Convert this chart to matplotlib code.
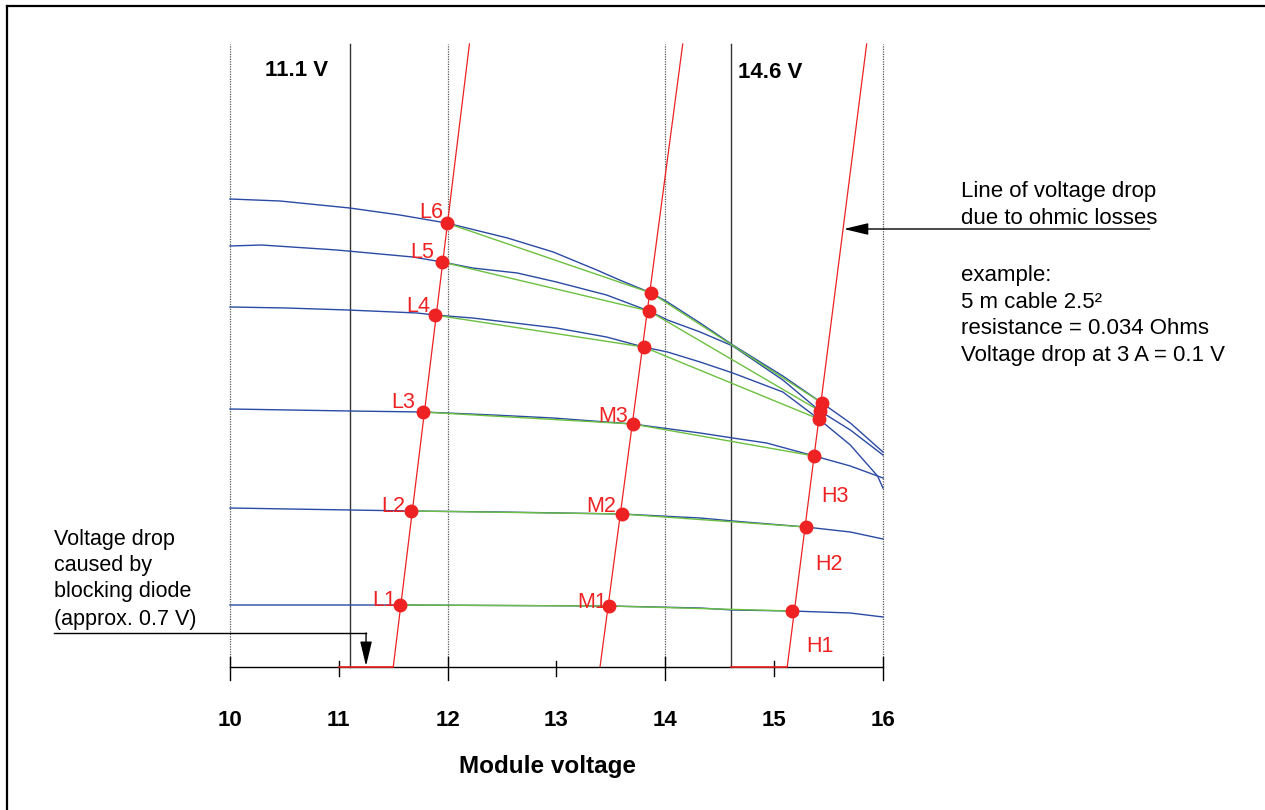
import numpy as np
import matplotlib
matplotlib.use("Agg")
import matplotlib.pyplot as plt
from matplotlib.lines import Line2D

plt.rcParams['font.family'] = ['Liberation Sans', 'DejaVu Sans']

# module voltage (V) and current (arb. units) of the six I-V curves, bottom to top
v1 = [10.00, 11.10, 11.56, 12.48, 13.48, 14.32, 14.62, 15.16, 15.70, 16.00]
i1 = [0.62, 0.62, 0.62, 0.615, 0.61, 0.59, 0.57, 0.56, 0.54, 0.50]
v2 = [10.00, 11.10, 11.66, 12.48, 13.60, 14.32, 14.62, 15.29, 15.70, 16.00]
i2 = [1.59, 1.57, 1.56, 1.55, 1.53, 1.49, 1.46, 1.40, 1.35, 1.28]
v3 = [10.00, 11.10, 11.77, 12.42, 12.97, 13.70, 14.32, 14.62, 14.93, 15.37, 15.70, 16.00]
i3 = [2.58, 2.56, 2.55, 2.52, 2.49, 2.43, 2.34, 2.29, 2.24, 2.11, 2.01, 1.89]
v4 = [10.00, 10.52, 11.08, 11.72, 11.88, 12.23, 13.00, 13.46, 13.80, 14.02, 14.32, 14.62, 15.08, 15.41, 15.70, 15.95, 16.00]
i4 = [3.60, 3.59, 3.57, 3.54, 3.52, 3.49, 3.39, 3.30, 3.20, 3.15, 3.05, 2.94, 2.75, 2.48, 2.22, 1.91, 1.79]
v5 = [10.00, 10.29, 10.98, 11.68, 11.95, 12.23, 12.64, 13.00, 13.46, 13.85, 14.02, 14.32, 14.62, 15.08, 15.42, 15.70, 16.00]
i5 = [4.21, 4.22, 4.17, 4.10, 4.05, 3.99, 3.94, 3.85, 3.72, 3.56, 3.47, 3.35, 3.21, 2.87, 2.56, 2.37, 2.12]
v6 = [10.00, 10.46, 11.10, 11.56, 11.99, 12.55, 12.97, 13.37, 13.58, 13.87, 14.02, 14.32, 14.62, 15.08, 15.44, 15.70, 16.00]
i6 = [4.68, 4.66, 4.59, 4.52, 4.44, 4.29, 4.15, 3.97, 3.87, 3.74, 3.65, 3.44, 3.22, 2.91, 2.64, 2.44, 2.15]
curves = [(v1, i1), (v2, i2), (v3, i3), (v4, i4), (v5, i5), (v6, i6)]

# operating points on the three voltage drop lines (levels 1..6)
low_v = [11.56, 11.66, 11.77, 11.88, 11.95, 11.99]
low_i = [0.62, 1.56, 2.55, 3.52, 4.05, 4.44]
mid_v = [13.48, 13.60, 13.70, 13.80, 13.85, 13.87]
mid_i = [0.61, 1.53, 2.43, 3.20, 3.56, 3.74]
high_v = [15.16, 15.29, 15.37, 15.41, 15.42, 15.44]
high_i = [0.56, 1.40, 2.11, 2.48, 2.56, 2.64]

low_labels = ['L1', 'L2', 'L3', 'L4', 'L5', 'L6']
mid_labels = ['M1', 'M2', 'M3']
high_labels = ['H1', 'H2', 'H3']

# voltage drop lines: voltage at zero current and at the top of the chart
drop_v0 = [11.50, 13.40, 15.12]
drop_v1 = [12.20, 14.16, 15.85]
i_top = 6.23

grid_dotted = [10, 12, 14, 16]
limits = [11.1, 14.6]
major_ticks = [10, 12, 14, 16]
minor_ticks = [11, 13, 15]
tick_labels = ['10', '11', '12', '13', '14', '15', '16']

blue = '#2b4aa3'
green = '#6cc040'
red = '#ee2222'

fig = plt.figure(figsize=(12.65, 8.10), dpi=100)
ax = fig.add_axes([0, 0, 1, 1])
ax.set_xlim(7.8866, 19.5103)
ax.set_ylim(-1.43, 6.67)
ax.axis('off')

# vertical guide lines
for v in grid_dotted:
    ax.plot([v, v], [0, i_top], color='#555555', lw=0.9, ls=(0, (1, 1)), zorder=1)
for v in limits:
    ax.plot([v, v], [0, i_top], color='#333333', lw=1.0, zorder=1)

# blue curves
for v, i in curves:
    ax.plot(v, i, color=blue, lw=1.0, zorder=2)

# green connections between operating points
for k in range(6):
    ax.plot([low_v[k], mid_v[k], high_v[k]], [low_i[k], mid_i[k], high_i[k]],
            color=green, lw=1.0, zorder=3)

# red voltage drop lines
for a, b in zip(drop_v0, drop_v1):
    ax.plot([a, b], [0, i_top], color=red, lw=0.9, zorder=4)

# x axis
ax.plot([10, 16], [0, 0], color='black', lw=1.0, zorder=5)
ax.plot([11.0, drop_v0[0]], [0, 0], color=red, lw=1.2, zorder=6)
ax.plot([limits[1], drop_v0[2]], [0, 0], color=red, lw=1.2, zorder=6)
for t in major_ticks:
    ax.plot([t, t], [0.10, -0.13], color='black', lw=1.0, zorder=5)
for t in minor_ticks:
    ax.plot([t, t], [0.06, -0.09], color='black', lw=1.0, zorder=5)
for t, lab in zip(range(10, 17), tick_labels):
    ax.text(t, -0.53, lab, ha='center', va='center', fontsize=16, fontweight='bold')
ax.text(12.92, -1.00, 'Module voltage', ha='center', va='center', fontsize=17.5, fontweight='bold')

ax.text(10.61, 5.96, '11.1 V', ha='center', va='center', fontsize=16, fontweight='bold')
ax.text(14.96, 5.95, '14.6 V', ha='center', va='center', fontsize=16, fontweight='bold')

# dots
ax.plot(low_v + mid_v + high_v, low_i + mid_i + high_i, 'o', color=red, ms=9, zorder=7)

# point labels
low_pos = [(11.42, 0.67), (11.50, 1.61), (11.59, 2.65), (11.73, 3.60), (11.77, 4.14), (11.85, 4.54)]
mid_pos = [(13.33, 0.65), (13.41, 1.60), (13.52, 2.51)]
high_pos = [(15.42, 0.20), (15.50, 1.03), (15.56, 1.70)]
for labs, pos in [(low_labels, low_pos), (mid_labels, mid_pos), (high_labels, high_pos)]:
    for lab, (x, y) in zip(labs, pos):
        ax.text(x, y, lab, color=red, ha='center', va='center', fontsize=15.5)

# annotation: ohmic losses
right_lines = ['Line of voltage drop', 'due to ohmic losses', '', 'example:',
               '5 m cable 2.5²', 'resistance = 0.034 Ohms', 'Voltage drop at 3 A = 0.1 V']
right_y = [4.75, 4.48, 4.20, 3.92, 3.65, 3.39, 3.12]
for s, y in zip(right_lines, right_y):
    ax.text(16.72, y, s, ha='left', va='center', fontsize=16)
ax.annotate('', xy=(15.64, 4.38), xytext=(18.45, 4.38),
            arrowprops=dict(arrowstyle='-|>,head_length=0.75,head_width=0.18',
                            mutation_scale=20, color='black', lw=1.0,
                            shrinkA=0, shrinkB=0), zorder=8)

# annotation: blocking diode
left_lines = ['Voltage drop', 'caused by', 'blocking diode', '(approx. 0.7 V)']
left_y = [1.28, 1.01, 0.75, 0.48]
for s, y in zip(left_lines, left_y):
    ax.text(8.38, y, s, ha='left', va='center', fontsize=15.5)
ax.plot([8.38, 11.25], [0.34, 0.34], color='black', lw=1.0)
ax.annotate('', xy=(11.25, 0.01), xytext=(11.25, 0.34),
            arrowprops=dict(arrowstyle='-|>,head_length=0.75,head_width=0.18',
                            mutation_scale=20, color='black', lw=1.0,
                            shrinkA=0, shrinkB=0), zorder=8)

# frame on left and top
fig.add_artist(Line2D([7.5 / 1265, 7.5 / 1265], [0, 1 - 5.5 / 810], color='black', lw=1.6))
fig.add_artist(Line2D([7.5 / 1265, 1], [1 - 5.5 / 810, 1 - 5.5 / 810], color='black', lw=1.6))

fig.savefig('out.png', dpi=100)
